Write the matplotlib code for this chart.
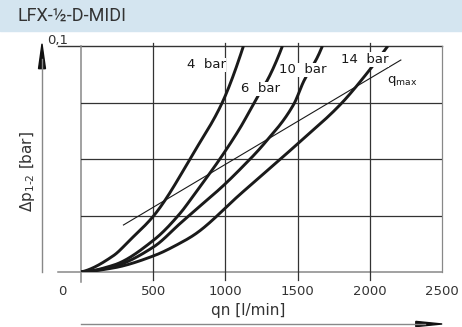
import numpy as np
import matplotlib
matplotlib.use("Agg")
import matplotlib.pyplot as plt
from matplotlib.patches import Rectangle

plt.rcParams["font.family"] = ["DejaVu Sans"]
plt.rcParams["mathtext.default"] = "regular"

title = "LFX-½-D-MIDI"

# qn [l/min] / dp [bar]
qn_4bar = [0, 224, 340, 505, 792, 977, 1125]
dp_4bar = [0, 0.0072, 0.0142, 0.025, 0.054, 0.0748, 0.1]

qn_6bar = [0, 224, 505, 687, 792, 965, 1104, 1220, 1300, 1395]
dp_6bar = [0, 0.003, 0.0142, 0.026, 0.035, 0.0503, 0.064, 0.0773, 0.086, 0.1]

qn_10bar = [0, 224, 505, 687, 792, 977, 1104, 1266, 1474, 1544, 1637, 1672]
dp_10bar = [0, 0.0024, 0.0112, 0.0215, 0.0274, 0.0377, 0.0456, 0.0566, 0.0743, 0.0846, 0.095, 0.1]

qn_14bar = [0, 224, 505, 687, 792, 1104, 1498, 1799, 1995, 2076, 2125]
dp_14bar = [0, 0.0018, 0.0072, 0.0128, 0.0168, 0.0345, 0.0566, 0.0743, 0.0891, 0.0958, 0.1]

qn_qmax = [294, 2215]
dp_qmax = [0.0208, 0.0938]

curve_labels = ["4  bar", "6  bar", "10  bar", "14  bar"]
label_qn = [868, 1243, 1538, 1965]
label_dp = [0.0916, 0.081, 0.0894, 0.094]

xticks = [500, 1000, 1500, 2000, 2500]


def pchip(x, y, n=300):
    # monotone cubic through the read points
    x = np.asarray(x, float)
    y = np.asarray(y, float)
    h = np.diff(x)
    delta = np.diff(y) / h
    d = np.zeros_like(y)
    for k in range(1, len(x) - 1):
        if delta[k - 1] * delta[k] > 0:
            w1 = 2 * h[k] + h[k - 1]
            w2 = h[k] + 2 * h[k - 1]
            d[k] = (w1 + w2) / (w1 / delta[k - 1] + w2 / delta[k])
    d0 = ((2 * h[0] + h[1]) * delta[0] - h[0] * delta[1]) / (h[0] + h[1])
    d[0] = d0 if d0 * delta[0] > 0 else 0
    dn = ((2 * h[-1] + h[-2]) * delta[-1] - h[-1] * delta[-2]) / (h[-1] + h[-2])
    d[-1] = dn if dn * delta[-1] > 0 else 0
    xs = np.linspace(x[0], x[-1], n)
    i = np.clip(np.searchsorted(x, xs) - 1, 0, len(x) - 2)
    t = (xs - x[i]) / h[i]
    h00 = 2 * t ** 3 - 3 * t ** 2 + 1
    h10 = t ** 3 - 2 * t ** 2 + t
    h01 = -2 * t ** 3 + 3 * t ** 2
    h11 = t ** 3 - t ** 2
    ys = h00 * y[i] + h10 * h[i] * d[i] + h01 * y[i + 1] + h11 * h[i] * d[i + 1]
    return xs, ys


fig = plt.figure(figsize=(4.62, 3.27), dpi=100)
fig.patches.append(Rectangle((0, 0.905), 1, 0.095, transform=fig.transFigure,
                             color="#d4e5f0", zorder=0))
fig.text(0.037, 0.952, title, fontsize=13, color="#333333", va="center",
         family=["Roboto", "DejaVu Sans"])

ax = fig.add_axes([0.1753, 0.1682, 0.7814, 0.6911])
ax.set_xlim(0, 2500)
ax.set_ylim(0, 0.1)
for s in ax.spines.values():
    s.set_visible(False)
ax.set_xticks([])
ax.set_yticks([])

grid_c = "#333333"
axis_c = "#888888"
# frame and grid
ax.plot([-160, 2500], [0, 0], color=axis_c, lw=1.1, clip_on=False)
ax.plot([-160, 2500], [0.1, 0.1], color=grid_c, lw=1.0, clip_on=False)
ax.plot([0, 0], [-0.0045, 0.1], color=axis_c, lw=1.1, clip_on=False)
ax.plot([2500, 2500], [0, 0.1], color=axis_c, lw=0.9, clip_on=False)
for v in [0.025, 0.05, 0.075]:
    ax.plot([0, 2500], [v, v], color=grid_c, lw=0.9)
for v in xticks[:-1]:
    ax.plot([v, v], [-0.0035, 0.1015], color=grid_c, lw=0.9, clip_on=False)

# tick labels
tick_c = "#333333"
for v in xticks:
    ax.text(v, -0.0087, str(v), ha="center", va="center", fontsize=9.5, color=tick_c)
ax.text(-127, -0.0087, "0", ha="center", va="center", fontsize=9.5, color=tick_c)
ax.text(-160, 0.1025, "0,1", ha="center", va="center", fontsize=9.5, color=tick_c)

# curves
for q, d in [(qn_4bar, dp_4bar), (qn_6bar, dp_6bar),
             (qn_10bar, dp_10bar), (qn_14bar, dp_14bar)]:
    xs, ys = pchip(q, d)
    ax.plot(xs, ys, color="#1a1a1a", lw=2.1, solid_capstyle="butt", zorder=3)
ax.plot(qn_qmax, dp_qmax, color="#1a1a1a", lw=0.8, zorder=3)

for lab, q, d in zip(curve_labels, label_qn, label_dp):
    ax.text(q, d, lab, ha="center", va="center", fontsize=9.5, color="#1a1a1a",
            zorder=5, bbox=dict(boxstyle="square,pad=0.05", fc="white", ec="none"))
ax.text(2222, 0.0845, "q$_{max}$", ha="center", va="center", fontsize=9.5,
        color="#1a1a1a", zorder=5)

# axis labels with arrows
fig.text(0.537, 0.049, "qn [l/min]", ha="center", va="center", fontsize=11, color=tick_c)
fig.text(0.0606, 0.474, "Δp$_{1\u2011 2}$ [bar]", ha="center", va="center",
         rotation=90, fontsize=11, color=tick_c)
fig.add_artist(plt.Line2D([0.1753, 0.92], [0.0092, 0.0092], color=axis_c, lw=1.0))
fig.patches.append(plt.Polygon([[0.90, 0.0092 + 0.008], [0.957, 0.0092],
                                [0.90, 0.0092 - 0.008]], closed=True,
                               transform=fig.transFigure, color="#111111"))
fig.add_artist(plt.Line2D([0.0909, 0.0909], [0.168, 0.82], color=axis_c, lw=1.0))
fig.patches.append(plt.Polygon([[0.0909 - 0.0075, 0.79], [0.0909, 0.866],
                                [0.0909 + 0.0075, 0.79]], closed=True,
                               transform=fig.transFigure, color="#111111"))

fig.savefig("out.png", dpi=100)
